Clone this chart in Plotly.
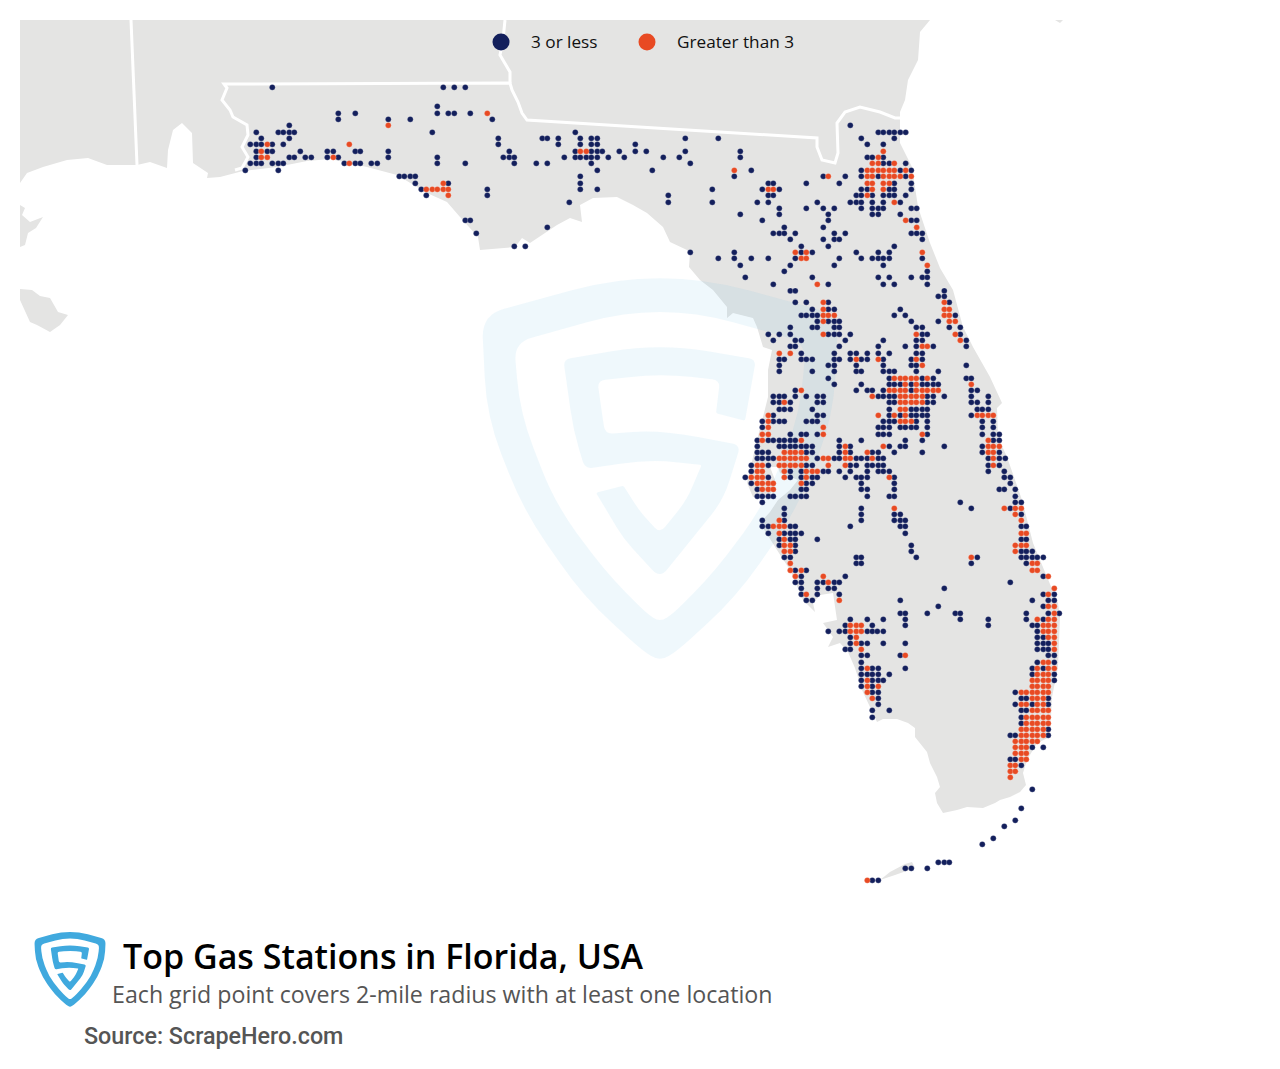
import plotly.graph_objects as go

# dots, pixel position: row y -> column x
navy_rows = {
    87.3: [272.3, 443.3, 454.3, 465.3],
    106.3: [437.3],
    113.3: [338.3, 355.3, 437.3, 448.3, 454.3, 470.3],
    119.3: [338.3, 388.3, 410.3, 492.3],
    125.3: [289.3, 850.3],
    132.3: [256.3, 278.3, 283.3, 289.3, 294.3, 432.3, 575.3, 878.3, 883.3, 889.3, 894.3, 900.3, 905.7],
    138.3: [261.3, 289.3, 498.3, 542.3, 547.3, 558.3, 580.3, 591.3, 597.3, 685.3, 718.3, 861.3, 894.3],
    144.3: [250.3, 256.3, 261.3, 272.3, 283.3, 498.3, 558.3, 580.3, 591.3, 597.3, 635.3, 867.3, 883.3],
    151.3: [256.3, 267.3, 272.3, 300.3, 327.3, 333.3, 355.3, 360.3, 388.3, 509.3, 575.3, 591.3, 597.3, 602.3, 619.3, 635.3, 646.3, 685.3, 740.3],
    157.3: [256.3, 289.3, 294.3, 305.3, 311.3, 327.3, 338.3, 388.3, 437.3, 503.3, 509.3, 514.3, 564.3, 575.3, 580.3, 586.3, 591.3, 597.3, 608.3, 624.3, 663.3, 679.3, 740.3, 867.3, 872.3, 883.3],
    163.3: [250.3, 256.3, 261.3, 272.3, 278.3, 283.3, 344.3, 355.3, 360.3, 371.3, 377.3, 437.3, 465.3, 514.3, 536.3, 547.3, 591.3, 690.3, 883.3, 889.3, 905.7],
    170.3: [245.3, 278.3, 597.3, 652.3, 751.3, 861.3, 900.3, 911.3],
    176.3: [399.3, 404.3, 410.3, 415.3, 580.3, 734.3, 823.3, 845.3, 861.3, 878.3, 905.7],
    183.3: [415.3, 448.3, 580.3, 768.3, 773.3, 806.3, 839.3, 894.3, 911.3],
    189.3: [421.3, 487.3, 580.3, 597.3, 712.3, 762.3, 779.3, 861.3, 867.3, 889.3, 894.3, 911.3],
    195.3: [426.3, 487.3, 668.3, 768.3, 773.3, 856.3, 861.3, 872.3, 883.3, 889.3, 894.3, 905.7],
    202.3: [569.3, 668.3, 712.3, 757.3, 768.3, 817.3, 850.3, 856.3, 861.3, 872.3, 883.3, 900.3],
    208.3: [779.3, 806.3, 823.3, 834.3, 861.3, 872.3, 878.3, 883.3, 911.3, 916.7],
    214.3: [740.3, 779.3, 828.3, 872.3, 878.3, 900.3],
    220.3: [465.3, 470.3, 762.3, 828.3, 911.3, 916.7],
    227.3: [547.3, 784.3, 823.3],
    233.3: [476.3, 773.3, 779.3, 784.3, 795.3, 834.3, 845.3, 911.3, 916.7, 922.3],
    239.3: [790.3, 823.3, 834.3, 839.3, 922.3],
    246.3: [514.3, 525.3, 801.3, 828.3, 894.3],
    252.3: [690.3, 734.3, 801.3, 812.3, 856.3, 878.3, 889.3],
    258.3: [718.3, 734.3, 751.3, 768.3, 795.3, 839.3, 861.3, 872.3, 878.3, 883.3, 889.3, 922.3],
    265.3: [740.3, 790.3, 834.3, 883.3],
    271.3: [784.3, 927.3],
    277.3: [745.3, 812.3, 878.3, 889.3, 911.3, 922.3, 927.3],
    284.3: [773.3, 828.3, 883.3, 894.3, 927.3],
    290.8: [790.3, 795.3, 944.3],
    296.3: [938.3, 944.3],
    302.3: [795.3, 806.3, 828.3, 949.3],
    309.3: [812.3, 828.3, 834.3, 900.3],
    315.3: [801.3, 806.3, 812.3, 817.3, 894.3, 905.3, 955.3],
    321.3: [817.3, 828.3, 834.3, 839.3, 911.3, 938.3],
    327.3: [790.3, 812.3, 817.3, 834.3, 839.3, 916.3, 922.3, 949.3, 960.3],
    334.3: [768.3, 779.3, 790.3, 828.3, 834.3, 839.3, 850.3, 922.3, 927.3, 960.3],
    340.3: [773.3, 795.3, 801.3, 845.3, 883.3, 916.3, 922.3, 966.3],
    346.3: [790.3, 795.3, 839.3, 878.3, 905.3, 916.3, 933.3, 966.3],
    353.3: [801.3, 834.3, 850.3, 856.3, 867.3, 878.3, 889.3, 916.3, 922.3],
    359.3: [779.3, 784.3, 801.3, 806.3, 812.3, 834.3, 839.3, 850.3, 861.3, 867.3, 883.3, 911.3, 922.3],
    365.3: [779.3, 828.3, 834.3, 856.3, 883.3, 911.3, 916.3, 966.3],
    371.3: [779.3, 812.3, 834.3, 856.3, 861.3, 883.3, 889.3, 894.3, 916.3, 938.3],
    378.3: [828.3, 889.3, 922.3, 933.3, 966.3, 971.3],
    384.3: [834.3, 861.3, 889.3, 894.3, 900.3, 911.3, 922.3, 927.3, 933.3, 938.3],
    390.3: [795.3, 856.3, 867.3, 872.3, 883.3, 911.3, 971.3, 977.3],
    396.3: [773.3, 779.3, 784.3, 795.3, 806.3, 817.3, 823.3, 878.3, 883.3, 889.3, 894.3, 927.3, 933.3, 944.3, 971.3, 988.3],
    402.3: [773.3, 779.3, 790.3, 817.3, 823.3, 889.3, 894.3, 927.3, 933.3, 971.3, 977.3, 988.3],
    409.3: [779.3, 784.3, 790.3, 812.3, 889.3, 911.3, 916.3, 922.3, 927.3, 977.3, 982.3, 988.3],
    415.3: [773.3, 817.3, 823.3, 889.3, 900.3, 911.3, 916.3, 922.3, 927.3, 971.3],
    421.3: [762.3, 773.3, 779.3, 784.3, 806.3, 812.3, 817.3, 883.3, 889.3, 894.3, 916.3, 927.3, 982.3, 993.3],
    427.3: [762.3, 878.3, 883.3, 889.3, 900.3, 905.3, 911.3, 916.3, 927.3, 982.3, 993.3],
    434.3: [790.3, 801.3, 806.3, 817.3, 878.3, 883.3, 889.3, 927.3, 982.3, 993.3, 999.3],
    440.3: [757.3, 768.3, 773.3, 779.3, 784.3, 790.3, 795.3, 839.3, 861.3, 905.3, 922.3, 993.3, 999.3],
    446.3: [757.3, 779.3, 784.3, 790.3, 795.3, 801.3, 806.3, 812.3, 839.3, 850.3, 889.3, 900.3, 905.3, 944.3, 982.3],
    452.3: [757.3, 762.3, 768.3, 806.3, 812.3, 839.3, 850.3, 872.3, 878.3, 894.3, 922.3, 982.3, 999.3],
    458.3: [757.3, 762.3, 768.3, 773.3, 817.3, 834.3, 839.3, 856.3, 861.3, 867.3, 878.3, 883.3, 988.3, 999.3, 1005.3],
    465.3: [751.3, 768.3, 806.3, 812.3, 850.3, 856.3, 867.3, 872.3, 878.3, 883.3, 988.3, 999.3],
    471.3: [751.3, 790.3, 801.3, 823.3, 828.3, 839.3, 850.3, 867.3, 878.3, 883.3, 889.3, 988.3, 1004.3],
    477.3: [745.3, 768.3, 790.3, 801.3, 812.3, 817.3, 845.3, 856.3, 861.3, 867.3, 894.3, 1004.3, 1010.3],
    483.3: [751.3, 806.3, 812.3, 861.3, 894.3, 1010.3],
    489.3: [757.3, 801.3, 806.3, 861.3, 867.3, 894.3, 999.3, 1004.3, 1015.3],
    496.3: [757.3, 762.3, 768.3, 773.3, 790.3, 795.3, 801.3, 806.3, 867.3, 889.3, 894.3, 1015.3],
    502.3: [762.3, 960.3, 1015.3, 1021.3],
    508.3: [784.3, 861.3, 971.3, 1010.3],
    514.3: [784.3, 861.3, 894.3, 900.3, 1021.3],
    520.3: [762.3, 784.3, 861.3, 894.3, 900.3, 905.3],
    526.3: [762.3, 768.3, 790.3, 795.3, 850.3, 900.3, 905.3, 1021.3, 1026.3],
    533.3: [768.3, 784.3, 790.3, 795.3, 801.3, 905.3],
    539.3: [779.3, 790.3, 795.3, 817.3, 1021.3, 1026.3],
    545.3: [779.3, 795.3, 911.3],
    551.3: [795.3, 911.3, 1021.3, 1026.3, 1032.3],
    557.3: [784.3, 790.3, 856.3, 861.3, 916.3, 977.3, 1021.3, 1026.3, 1032.3, 1037.3, 1043.3],
    563.3: [856.3, 861.3, 971.3, 1026.3],
    570.3: [795.3, 806.3],
    576.3: [801.3, 845.3, 1043.3],
    582.3: [795.3, 801.3, 817.3, 823.3, 834.3, 839.3, 1010.3],
    588.3: [801.3, 817.3, 828.3, 834.3, 944.3],
    594.3: [801.3, 817.3, 839.3, 1043.3, 1054.3],
    600.3: [806.3, 812.3, 900.3, 1032.3, 1048.3, 1054.3],
    606.3: [938.3, 1043.3],
    613.3: [900.3, 905.3, 927.3, 955.3, 960.3, 1026.3, 1048.3, 1059.3],
    619.3: [850.3, 867.3, 883.3, 905.3, 960.3, 988.3, 1026.3, 1043.3],
    625.3: [845.3, 872.3, 905.3, 988.3, 1032.3, 1037.3],
    631.3: [828.3, 839.3, 845.3, 867.3, 872.3, 877.3, 883.3, 1037.3],
    637.3: [850.3, 1037.3, 1043.3],
    643.3: [850.3, 861.3, 867.3, 883.3, 905.3, 1037.3, 1043.3, 1048.3],
    649.3: [845.3, 850.3, 1037.3, 1043.3, 1048.3],
    655.3: [861.3, 867.3, 900.3, 1048.3, 1054.3],
    662.3: [861.3, 1037.3, 1054.3],
    668.3: [861.3, 872.3, 878.3, 905.3, 1032.3, 1043.3],
    674.3: [861.3, 867.3, 872.3, 878.3, 889.3, 1032.3, 1054.3],
    680.3: [861.3, 872.3, 878.3, 883.3, 1054.3],
    686.3: [861.3, 872.3],
    692.3: [872.3, 878.3, 1015.3],
    698.3: [878.3, 1021.3, 1026.3, 1048.3],
    704.3: [878.3, 1015.3, 1032.3, 1048.3],
    710.3: [872.3, 889.3, 1021.3, 1026.3],
    717.3: [872.3, 1021.3],
    723.3: [1021.3],
    729.3: [1048.3],
    735.3: [1010.3, 1015.3, 1048.3],
    747.3: [1032.3, 1043.3],
    759.3: [1010.3, 1015.3],
    765.3: [1021.3],
    789.3: [1032.3],
    808.3: [1021.3],
    820.3: [1015.3],
    826.3: [1004.3],
    838.3: [993.3],
    844.3: [982.3],
    862.3: [938.3, 944.3, 949.3],
    868.3: [905.3, 911.3, 927.3],
    880.3: [872.3, 878.3],
}

orange_rows = {
    113.3: [487.3],
    125.3: [388.3],
    144.3: [267.3, 349.3],
    151.3: [261.3, 580.3, 586.3, 883.3],
    157.3: [261.3, 267.3, 333.3, 878.3],
    163.3: [349.3, 872.3, 878.3, 894.3],
    170.3: [734.3, 867.3, 872.3, 878.3, 883.3, 889.3, 894.3, 905.7],
    176.3: [828.3, 867.3, 872.3, 883.3, 889.3, 894.3, 900.3, 911.3],
    183.3: [443.3, 867.3, 872.3, 883.3, 889.3],
    189.3: [426.3, 432.3, 437.3, 443.3, 448.3, 768.3, 773.3, 872.3, 883.3],
    195.3: [448.3, 867.3],
    202.3: [894.3],
    220.3: [905.7],
    227.3: [916.7],
    252.3: [795.3, 806.3, 922.3],
    258.3: [801.3, 806.3],
    265.3: [927.3],
    284.3: [817.3],
    302.3: [823.3, 944.3],
    309.3: [823.3, 944.3, 949.3],
    315.3: [823.3, 828.3, 834.3, 944.3, 949.3],
    321.3: [823.3, 949.3, 955.3],
    334.3: [823.3, 916.3, 955.3],
    340.3: [960.3],
    346.3: [922.3, 927.3],
    353.3: [779.3, 790.3],
    359.3: [856.3, 878.3, 916.3],
    365.3: [922.3],
    378.3: [894.3, 900.3, 905.3, 911.3, 916.3, 927.3],
    384.3: [905.3, 916.3, 971.3],
    390.3: [801.3, 889.3, 894.3, 900.3, 905.3, 916.3, 922.3, 927.3, 933.3, 938.3],
    396.3: [872.3, 900.3, 905.3, 911.3, 916.3, 922.3],
    402.3: [784.3, 900.3, 905.3, 911.3, 916.3, 922.3],
    409.3: [900.3, 905.3],
    415.3: [768.3, 878.3, 894.3, 905.3, 977.3, 982.3, 988.3, 993.3],
    421.3: [768.3, 900.3, 905.3, 911.3],
    427.3: [768.3, 823.3],
    434.3: [762.3, 768.3, 823.3, 922.3],
    440.3: [762.3, 801.3, 988.3],
    446.3: [845.3, 883.3, 988.3, 993.3, 999.3],
    452.3: [784.3, 790.3, 795.3, 801.3, 845.3, 867.3, 988.3, 993.3],
    458.3: [779.3, 784.3, 790.3, 795.3, 801.3, 806.3, 823.3, 828.3, 845.3, 850.3, 872.3, 993.3],
    465.3: [757.3, 762.3, 779.3, 784.3, 790.3, 795.3, 801.3, 828.3, 845.3, 993.3],
    471.3: [757.3, 762.3, 784.3, 806.3, 812.3, 817.3],
    477.3: [751.3, 757.3, 762.3, 784.3, 806.3, 889.3],
    483.3: [757.3, 762.3, 768.3, 773.3, 801.3],
    489.3: [762.3, 768.3, 773.3],
    508.3: [894.3, 1004.3, 1015.3, 1021.3],
    514.3: [1015.3],
    520.3: [779.3, 1021.3],
    526.3: [773.3, 779.3, 784.3],
    533.3: [779.3, 1021.3, 1026.3],
    539.3: [784.3],
    545.3: [784.3, 790.3, 1015.3, 1021.3, 1026.3],
    551.3: [784.3, 790.3, 1015.3],
    557.3: [971.3],
    563.3: [790.3, 1032.3, 1037.3],
    570.3: [790.3, 801.3, 1032.3, 1037.3],
    576.3: [795.3, 823.3, 1048.3],
    582.3: [828.3],
    588.3: [1054.3],
    594.3: [806.3, 1048.3],
    600.3: [839.3],
    606.3: [1048.3, 1054.3],
    613.3: [1054.3],
    619.3: [1037.3, 1048.3, 1054.3],
    625.3: [850.3, 856.3, 861.3, 1043.3, 1048.3, 1054.3],
    631.3: [850.3, 856.3, 861.3, 1043.3, 1048.3, 1054.3],
    637.3: [856.3, 1048.3, 1054.3],
    643.3: [856.3, 1054.3],
    649.3: [861.3, 1054.3],
    655.3: [905.3],
    662.3: [1043.3, 1048.3],
    668.3: [867.3, 1037.3, 1048.3, 1054.3],
    674.3: [1037.3, 1043.3, 1048.3],
    680.3: [867.3, 1032.3, 1037.3, 1043.3, 1048.3],
    686.3: [867.3, 878.3, 1032.3, 1037.3, 1043.3, 1048.3],
    692.3: [867.3, 1021.3, 1026.3, 1032.3, 1037.3, 1043.3, 1048.3],
    698.3: [872.3, 1032.3, 1037.3, 1043.3],
    704.3: [1021.3, 1026.3, 1037.3, 1043.3],
    710.3: [1032.3, 1037.3, 1043.3, 1048.3],
    717.3: [1026.3, 1032.3, 1037.3, 1043.3, 1048.3],
    723.3: [1026.3, 1032.3, 1037.3, 1043.3, 1048.3],
    729.3: [1021.3, 1026.3, 1032.3, 1037.3, 1043.3],
    735.3: [1021.3, 1026.3, 1032.3, 1037.3, 1043.3],
    741.3: [1015.3, 1021.3, 1026.3, 1032.3, 1037.3],
    747.3: [1015.3, 1021.3, 1026.3],
    753.3: [1015.3, 1021.3, 1026.3],
    759.3: [1021.3, 1026.3],
    765.3: [1010.3, 1015.3],
    771.3: [1010.3, 1015.3],
    777.3: [1010.3],
    880.3: [867.3],
}

legend_labels = ["3 or less", "Greater than 3"]
legend_dot_x = [501, 647]
legend_label_x = [531, 677]

# map outlines in page pixels
land_main = [
    (20, 20), (930, 20), (920, 32), (918, 60), (908, 80), (905, 100), (900, 112), (900, 143), (912, 167), (918, 207),
    (930, 243), (940, 268), (953, 290), (963, 327), (973, 347), (990, 377), (1002, 403), (997, 408), (998, 437),
    (1007, 457), (1022, 500), (1033, 543), (1047, 577), (1058, 603), (1060, 617), (1058, 667), (1052, 697), (1050, 737),
    (1037, 743), (1027, 760), (1023, 773), (1026, 785), (1020, 792), (1010, 797), (1000, 800), (995, 803), (983, 808),
    (967, 807), (957, 810), (943, 813), (937, 803), (935, 793), (940, 787), (937, 777), (930, 763), (927, 752), (915, 737),
    (915, 728), (908, 723), (897, 719), (883, 719), (877, 722), (870, 707), (862, 690), (855, 668), (848, 652), (840, 643),
    (828, 647), (833, 637), (823, 623), (837, 620), (833, 593), (820, 595), (813, 603), (815, 612), (803, 600), (790, 570),
    (777, 550), (760, 523), (770, 512), (778, 500), (790, 490), (798, 480), (780, 473), (778, 467), (770, 467), (775, 480),
    (770, 495), (753, 497), (747, 483), (750, 470), (757, 440), (763, 417), (768, 397), (768, 370), (772, 350), (763, 347),
    (757, 327), (753, 318), (733, 313), (727, 318), (727, 307), (713, 290), (700, 280), (689, 267), (690, 253), (687, 250),
    (670, 242), (663, 227), (647, 213), (633, 205), (617, 197), (593, 198), (580, 205), (582, 222), (570, 218), (557, 225),
    (530, 243), (522, 238), (515, 247), (480, 250), (478, 237), (460, 217), (447, 202), (427, 193), (397, 175), (367, 167),
    (330, 159), (307, 161), (277, 167), (243, 171), (220, 177), (207, 178), (208, 173), (193, 163), (192, 133), (182, 123),
    (173, 130), (168, 150), (167, 168), (150, 162), (137, 165), (117, 165), (107, 165), (88, 158), (67, 160), (43, 167),
    (27, 173), (20, 183),
]
land_delta = [(20, 205), (25, 208), (22, 215), (30, 222), (43, 217), (36, 228), (28, 233), (25, 245), (20, 247)]
land_west = [(20, 289), (32, 290), (40, 296), (50, 298), (58, 312), (68, 315), (60, 325), (50, 332), (37, 325), (30, 322), (20, 300)]
land_keys = [(880, 880), (890, 872), (905, 864), (912, 862), (915, 868), (895, 875)]
land_speck = [(1055, 20), (1063, 20), (1060, 23)]

border_west = [(131, 20), (137, 165)]
border_florida = [
    (235, 170), (242, 168), (248, 157), (242, 147), (248, 135), (247, 125), (233, 117), (230, 110), (222, 100), (227, 88),
    (224, 84), (510, 83), (512, 90), (518, 102), (522, 113), (527, 120), (817, 138), (817, 147), (822, 160), (835, 163),
    (838, 153), (837, 123), (845, 112), (860, 107), (880, 112), (895, 118), (903, 118),
]
border_north = [(505, 20), (503, 40), (500, 55), (510, 72), (510, 83)]

# half outlines of the shield, mirrored about x=570 (units of the 3x crop)
shield_outer = [(570, -12, 300), (35, 135, 70), (50, 440, 120), (160, 720, 120), (340, 980, 120), (515, 1140, 50), (570, 1175, 40)]
shield_inner = [(570, 95, 300), (132, 218, 55), (150, 430, 110), (255, 700, 110), (405, 905, 110), (530, 1030, 40), (570, 1057, 30)]
shield_s = [
    (570, 220, 200), (858, 268, 22), (825, 452, 6), (738, 430, 6), (750, 330, 24), (570, 311, 120), (382, 332, 24), (405, 492, 24),
    (570, 480, 120), (812, 525, 26), (760, 690, 60), (570, 925, 34), (460, 805, 40), (378, 668, 6), (460, 647, 6), (510, 725, 30),
    (570, 790, 24), (650, 690, 40), (695, 585, 6), (540, 568, 90), (345, 597, 24), (310, 480, 60), (280, 268, 22),
]


def poly_path(points):
    return "M " + " L ".join(f"{x},{y}" for x, y in points) + " Z"


def rounded_path(points, ox, oy, sx, sy):
    # each vertex is rounded off with a quadratic curve of the given radius
    out = []
    n = len(points)
    for i in range(n):
        x, y, r = points[i]
        px, py, _ = points[i - 1]
        nx, ny, _ = points[(i + 1) % n]
        d1 = ((x - px) ** 2 + (y - py) ** 2) ** 0.5
        d2 = ((x - nx) ** 2 + (y - ny) ** 2) ** 0.5
        r1 = min(r, d1 / 2)
        r2 = min(r, d2 / 2)
        a = (x + (px - x) * r1 / d1, y + (py - y) * r1 / d1)
        b = (x + (nx - x) * r2 / d2, y + (ny - y) * r2 / d2)
        a = (ox + a[0] * sx, oy + a[1] * sy)
        b = (ox + b[0] * sx, oy + b[1] * sy)
        c = (ox + x * sx, oy + y * sy)
        out.append(("M" if i == 0 else "L") + f" {a[0]:.2f},{a[1]:.2f} Q {c[0]:.2f},{c[1]:.2f} {b[0]:.2f},{b[1]:.2f}")
    return " ".join(out) + " Z"


def mirrored(half):
    right = [(1140 - x, y, r) for x, y, r in half[1:-1]][::-1]
    return half + right


def logo_shapes(ox, oy, sx, sy, color):
    ring = rounded_path(mirrored(shield_outer), ox, oy, sx, sy) + " " + rounded_path(mirrored(shield_inner), ox, oy, sx, sy)
    return [
        dict(type="path", path=ring, fillrule="evenodd", fillcolor=color, line=dict(width=0), layer="below"),
        dict(type="path", path=rounded_path(shield_s, ox, oy, sx, sy), fillcolor=color, line=dict(width=0), layer="below"),
    ]


land_color = "#e4e4e3"
shapes = [
    dict(type="path", path=poly_path(p), fillcolor=land_color, line=dict(width=0), layer="below")
    for p in [land_main, land_delta, land_west, land_keys, land_speck]
]
for b in [border_west, border_florida, border_north]:
    shapes.append(dict(type="path", path="M " + " L ".join(f"{x},{y}" for x, y in b),
                       line=dict(color="white", width=3), layer="below"))
shapes += logo_shapes(470, 270, 1 / 3, 1 / 3, "rgba(105,190,225,0.11)")
shapes += logo_shapes(32, 930.3, 0.0667, 0.0655, "#40a9de")


def flatten(rows):
    xs, ys = [], []
    for y, row in rows.items():
        for x in row:
            xs.append(x)
            ys.append(y)
    return xs, ys


halo = dict(color="rgba(255,255,255,0.45)", width=0.5)
fig = go.Figure()
navy_x, navy_y = flatten(navy_rows)
orange_x, orange_y = flatten(orange_rows)
fig.add_trace(go.Scatter(x=navy_x, y=navy_y, mode="markers", name=legend_labels[0],
                         marker=dict(color="#131f5c", size=5.8, line=halo)))
fig.add_trace(go.Scatter(x=orange_x, y=orange_y, mode="markers", name=legend_labels[1],
                         marker=dict(color="#e84a23", size=5.8, line=halo)))
fig.add_trace(go.Scatter(x=legend_dot_x, y=[42, 42], mode="markers",
                         marker=dict(color=["#131f5c", "#e84a23"], size=17, line=dict(width=0))))

for label, x in zip(legend_labels, legend_label_x):
    fig.add_annotation(x=x - 2, y=41.5, text=label, showarrow=False, xanchor="left", yanchor="middle",
                       font=dict(family="Open Sans", size=17.2, color="#111111"))
fig.add_annotation(x=121, y=956, text="Top Gas Stations in Florida, USA", showarrow=False, xanchor="left", yanchor="middle",
                   font=dict(family="Open Sans", size=34, color="#000000", weight=600))
fig.add_annotation(x=110, y=994, text="Each grid point covers 2-mile radius with at least one location", showarrow=False,
                   xanchor="left", yanchor="middle", font=dict(family="Open Sans", size=23.2, color="#555555"))
fig.add_annotation(x=82, y=1036, text="Source: ScrapeHero.com", showarrow=False, xanchor="left", yanchor="middle",
                   font=dict(family="Roboto", size=23.3, color="#555555", weight=500))

fig.update_layout(
    width=1280,
    height=1069,
    margin=dict(l=0, r=0, t=0, b=0),
    paper_bgcolor="white",
    plot_bgcolor="white",
    showlegend=False,
    shapes=shapes,
    xaxis=dict(range=[0, 1280], visible=False, fixedrange=True),
    yaxis=dict(range=[1069, 0], visible=False, fixedrange=True),
)

fig.write_html("out.html", post_script="document.body.style.margin='0';", config=dict(displayModeBar=False))
